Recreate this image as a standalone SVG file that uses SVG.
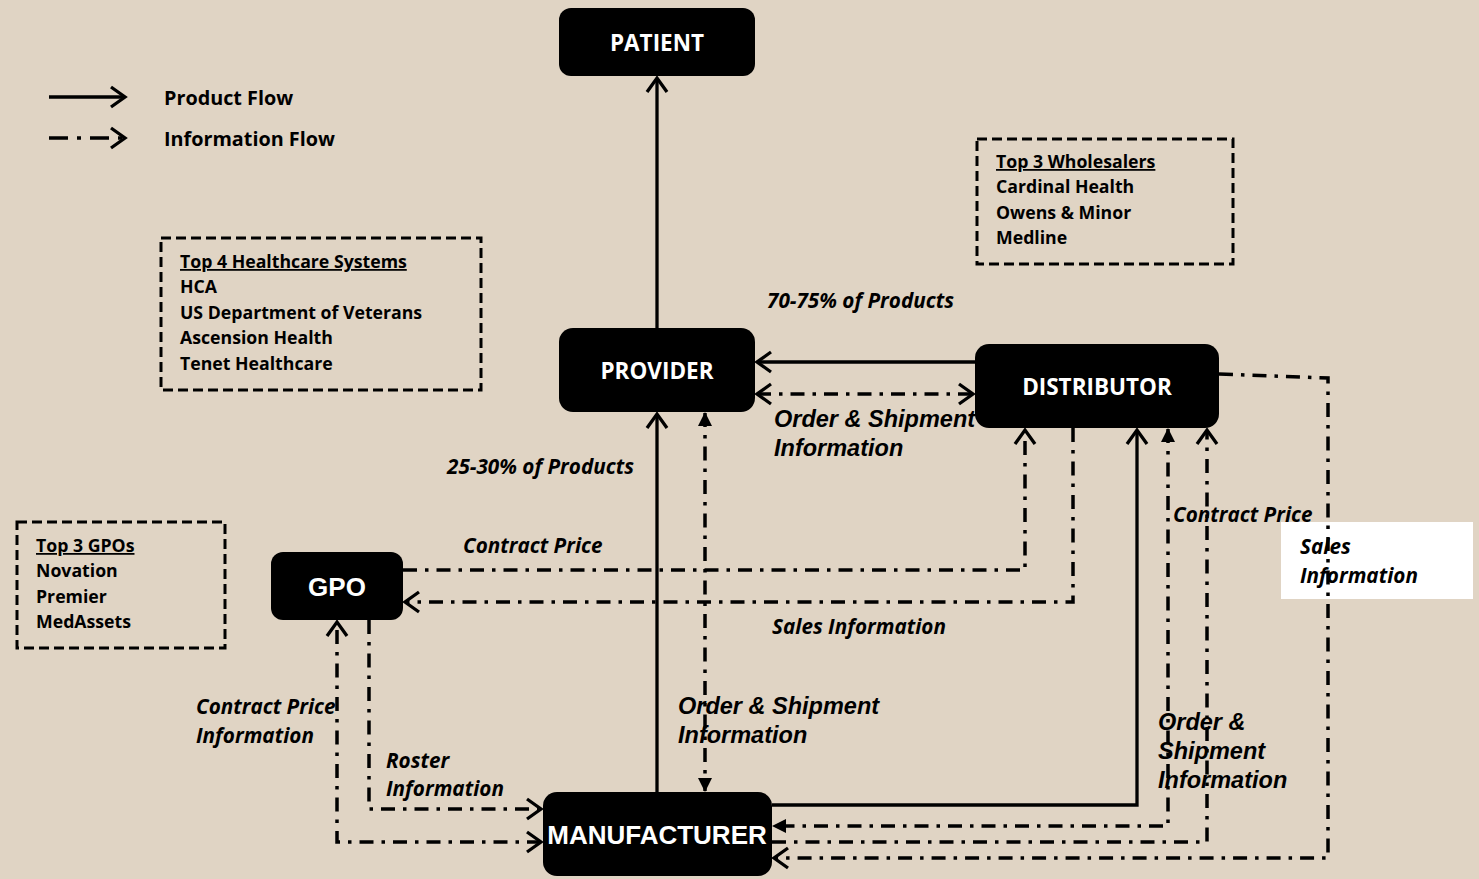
<svg xmlns="http://www.w3.org/2000/svg" width="1479" height="879" viewBox="0 0 1479 879">
<defs>
<style>
.node{fill:#000}
.nt{fill:#fff;font-family:"Open Sans","Liberation Sans",sans-serif;font-weight:bold;font-size:22.5px;text-anchor:middle}
.nta{fill:#fff;font-family:"Liberation Sans",Arial,sans-serif;font-weight:bold;font-size:26px;text-anchor:middle}
.box{fill:none;stroke:#000;stroke-width:3;stroke-dasharray:10 5}
.bt{font-family:"Open Sans","Liberation Sans",sans-serif;font-weight:bold;font-size:17.7px;fill:#000}
.lt{font-family:"Open Sans","Liberation Sans",sans-serif;font-weight:bold;font-size:19.8px;fill:#000}
.li{font-family:"Open Sans","Liberation Sans",sans-serif;font-weight:bold;font-style:italic;font-size:20.7px;fill:#000}
.la{font-family:"Liberation Sans",Arial,sans-serif;font-weight:bold;font-style:italic;font-size:23.5px;fill:#000}
.s{fill:none;stroke:#000;stroke-width:3.3}
.d{fill:none;stroke:#000;stroke-width:3.5;stroke-dasharray:14 8 3.5 8}
.o{marker-end:url(#open)}
.oo{marker-start:url(#open);marker-end:url(#open)}
.ff{marker-start:url(#fill);marker-end:url(#fill)}
</style>
<marker id="open" markerUnits="userSpaceOnUse" viewBox="0 0 20 24" refX="17" refY="12" markerWidth="20" markerHeight="24" orient="auto-start-reverse">
<path d="M3,2 L17,12 L3,22" fill="none" stroke="#000" stroke-width="3.3"/>
</marker>
<marker id="fill" markerUnits="userSpaceOnUse" viewBox="0 0 14 14" refX="13" refY="7" markerWidth="14" markerHeight="14" orient="auto-start-reverse">
<path d="M0,0 L14,7 L0,14 z" fill="#000"/>
</marker>
</defs>
<rect width="1479" height="879" fill="#E0D4C4"/>

<g id="legend">
<path class="s o" d="M49,97 H125"/>
<path class="d o" d="M49,138 H125" style="stroke-dasharray:19 9 4 9"/>
<text class="lt" x="164" y="105">Product Flow</text>
<text class="lt" x="164" y="146">Information Flow</text>
</g>

<g id="healthcare-box">
<rect class="box" x="161" y="238" width="320" height="152"/>
<text class="bt" x="180" y="268" text-decoration="underline">Top 4 Healthcare Systems</text>
<text class="bt" x="180" y="293">HCA</text>
<text class="bt" x="180" y="319">US Department of Veterans</text>
<text class="bt" x="180" y="344">Ascension Health</text>
<text class="bt" x="180" y="370">Tenet Healthcare</text>
</g>

<g id="wholesalers-box">
<rect class="box" x="977" y="139" width="256" height="125"/>
<text class="bt" x="996" y="168" text-decoration="underline">Top 3 Wholesalers</text>
<text class="bt" x="996" y="193">Cardinal Health</text>
<text class="bt" x="996" y="219">Owens &amp; Minor</text>
<text class="bt" x="996" y="244">Medline</text>
</g>

<g id="gpos-box">
<rect class="box" x="17" y="522" width="208" height="126"/>
<text class="bt" x="36" y="552" text-decoration="underline">Top 3 GPOs</text>
<text class="bt" x="36" y="577">Novation</text>
<text class="bt" x="36" y="603">Premier</text>
<text class="bt" x="36" y="628">MedAssets</text>
</g>

<rect x="1281" y="522" width="192" height="77" fill="#fff"/>

<g id="connectors">
<path class="s o" d="M657,328 V78"/>
<path class="s o" d="M975,362 H757"/>
<path class="d oo" d="M757,394 H973"/>
<path class="s o" d="M657,792 V414"/>
<path class="d ff" d="M705,413 V791"/>
<path class="d o" d="M403,570 H1025 V430"/>
<path class="d o" d="M1073,428 V602 H405"/>
<path class="s o" d="M772,805 H1137 V430"/>
<path class="d ff" d="M1168,429 V826 H773"/>
<path class="d o" d="M772,842 H1207 V430"/>
<path class="d o" d="M1219,374 L1328,378 V858 H774"/>
<path class="d o" d="M369,620 V809 H541"/>
<path class="d oo" d="M541,842 H337 V622"/>
</g>

<g id="patient"><rect class="node" x="559" y="8" width="196" height="68" rx="12"/><text class="nt" x="657" y="51">PATIENT</text></g>
<g id="provider"><rect class="node" x="559" y="328" width="196" height="84" rx="14"/><text class="nt" x="657" y="379">PROVIDER</text></g>
<g id="distributor"><rect class="node" x="975" y="344" width="244" height="84" rx="14"/><text class="nt" x="1097" y="395">DISTRIBUTOR</text></g>
<g id="gpo"><rect class="node" x="271" y="552" width="132" height="68" rx="12"/><text class="nta" x="337" y="596">GPO</text></g>
<g id="manufacturer"><rect class="node" x="543" y="792" width="229" height="84" rx="14"/><text class="nta" x="657" y="844">MANUFACTURER</text></g>

<g id="labels">
<text class="li" x="767" y="308">70-75% of Products</text>
<text class="li" x="447" y="474">25-30% of Products</text>
<text class="la" x="774" y="427">Order &amp; Shipment</text>
<text class="la" x="774" y="456">Information</text>
<text class="li" x="463" y="553">Contract Price</text>
<text class="li" x="772" y="634">Sales Information</text>
<text class="li" x="1173" y="522">Contract Price</text>
<text class="li" x="1300" y="554">Sales</text>
<text class="li" x="1300" y="583">Information</text>
<text class="li" x="196" y="714">Contract Price</text>
<text class="li" x="196" y="743">Information</text>
<text class="li" x="386" y="768">Roster</text>
<text class="li" x="386" y="796">Information</text>
<text class="la" x="678" y="714">Order &amp; Shipment</text>
<text class="la" x="678" y="743">Information</text>
<text class="la" x="1158" y="730">Order &amp;</text>
<text class="la" x="1158" y="759">Shipment</text>
<text class="la" x="1158" y="788">Information</text>
</g>
</svg>
